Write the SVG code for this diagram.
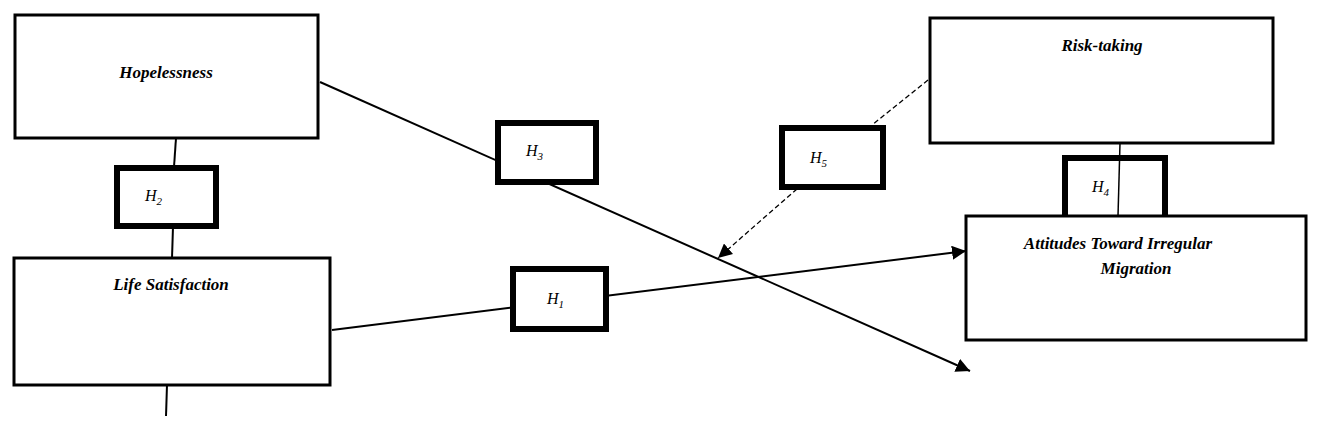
<svg xmlns="http://www.w3.org/2000/svg" width="1318" height="430" viewBox="0 0 1318 430">
<style>
.node{fill:#fff;stroke:#000;stroke-width:3}
.hyp{fill:#fff;stroke:#000;stroke-width:6}
.t{font-family:"Liberation Serif",serif;font-style:italic;font-weight:bold;font-size:17px;text-anchor:middle}
.h{font-family:"Liberation Serif",serif;font-style:italic;font-size:16px}
.c{stroke:#000;stroke-width:2;fill:none}
.d{stroke:#000;stroke-width:1.3;fill:none;stroke-dasharray:5,3}
</style>
<defs>
<marker id="a" viewBox="0 0 10 10" refX="10" refY="5" markerWidth="8" markerHeight="8" markerUnits="userSpaceOnUse" orient="auto"><path d="M0,0L10,5L0,10z"/></marker>
<marker id="b" viewBox="0 0 10 10" refX="10" refY="5" markerWidth="14" markerHeight="14" markerUnits="userSpaceOnUse" orient="auto"><path d="M0,0L10,5L0,10z"/></marker>
</defs>
<g id="connectors">
<line class="c" x1="176" y1="138" x2="174" y2="167"/>
<line class="c" x1="173" y1="227" x2="172" y2="258"/>
<line class="c" x1="167" y1="385" x2="166" y2="416"/>
<line class="c" x1="320" y1="82" x2="970" y2="371" marker-end="url(#b)"/>
<line class="c" x1="332" y1="330" x2="966" y2="251" marker-end="url(#b)"/>
<line class="d" x1="928" y1="80" x2="872" y2="125"/>
<line class="d" x1="797" y1="189" x2="718" y2="258" marker-end="url(#b)"/>
</g>
<g id="hopelessness"><rect class="node" x="15" y="15" width="303" height="123"/><text class="t" x="166" y="78">Hopelessness</text></g>
<g id="lifesat"><rect class="node" x="14" y="258" width="316" height="127"/><text class="t" x="171" y="290">Life Satisfaction</text></g>
<g id="risk"><rect class="node" x="930" y="18" width="343" height="125"/><text class="t" x="1102" y="51">Risk-taking</text></g>
<g id="h2"><rect class="hyp" x="117" y="168" width="99" height="58"/><text class="h" x="145" y="201">H<tspan font-size="11" dy="4">2</tspan></text></g>
<g id="h3"><rect class="hyp" x="498" y="123" width="98" height="59"/><text class="h" x="526" y="156">H<tspan font-size="11" dy="4">3</tspan></text></g>
<g id="h1"><rect class="hyp" x="513" y="269" width="93" height="60"/><text class="h" x="547" y="304">H<tspan font-size="11" dy="4">1</tspan></text></g>
<g id="h5"><rect class="hyp" x="782" y="128" width="101" height="59"/><text class="h" x="810" y="163">H<tspan font-size="11" dy="4">5</tspan></text></g>
<g id="h4"><rect class="hyp" x="1065" y="158" width="100" height="60"/><text class="h" x="1092" y="192">H<tspan font-size="11" dy="4">4</tspan></text></g>
<line class="c" style="stroke-width:1.5" x1="1120" y1="143" x2="1118" y2="216"/>
<g id="attitudes"><rect class="node" x="966" y="216" width="340" height="124"/><text class="t" x="1118" y="249">Attitudes Toward Irregular</text><text class="t" x="1136" y="274">Migration</text></g>
</svg>
